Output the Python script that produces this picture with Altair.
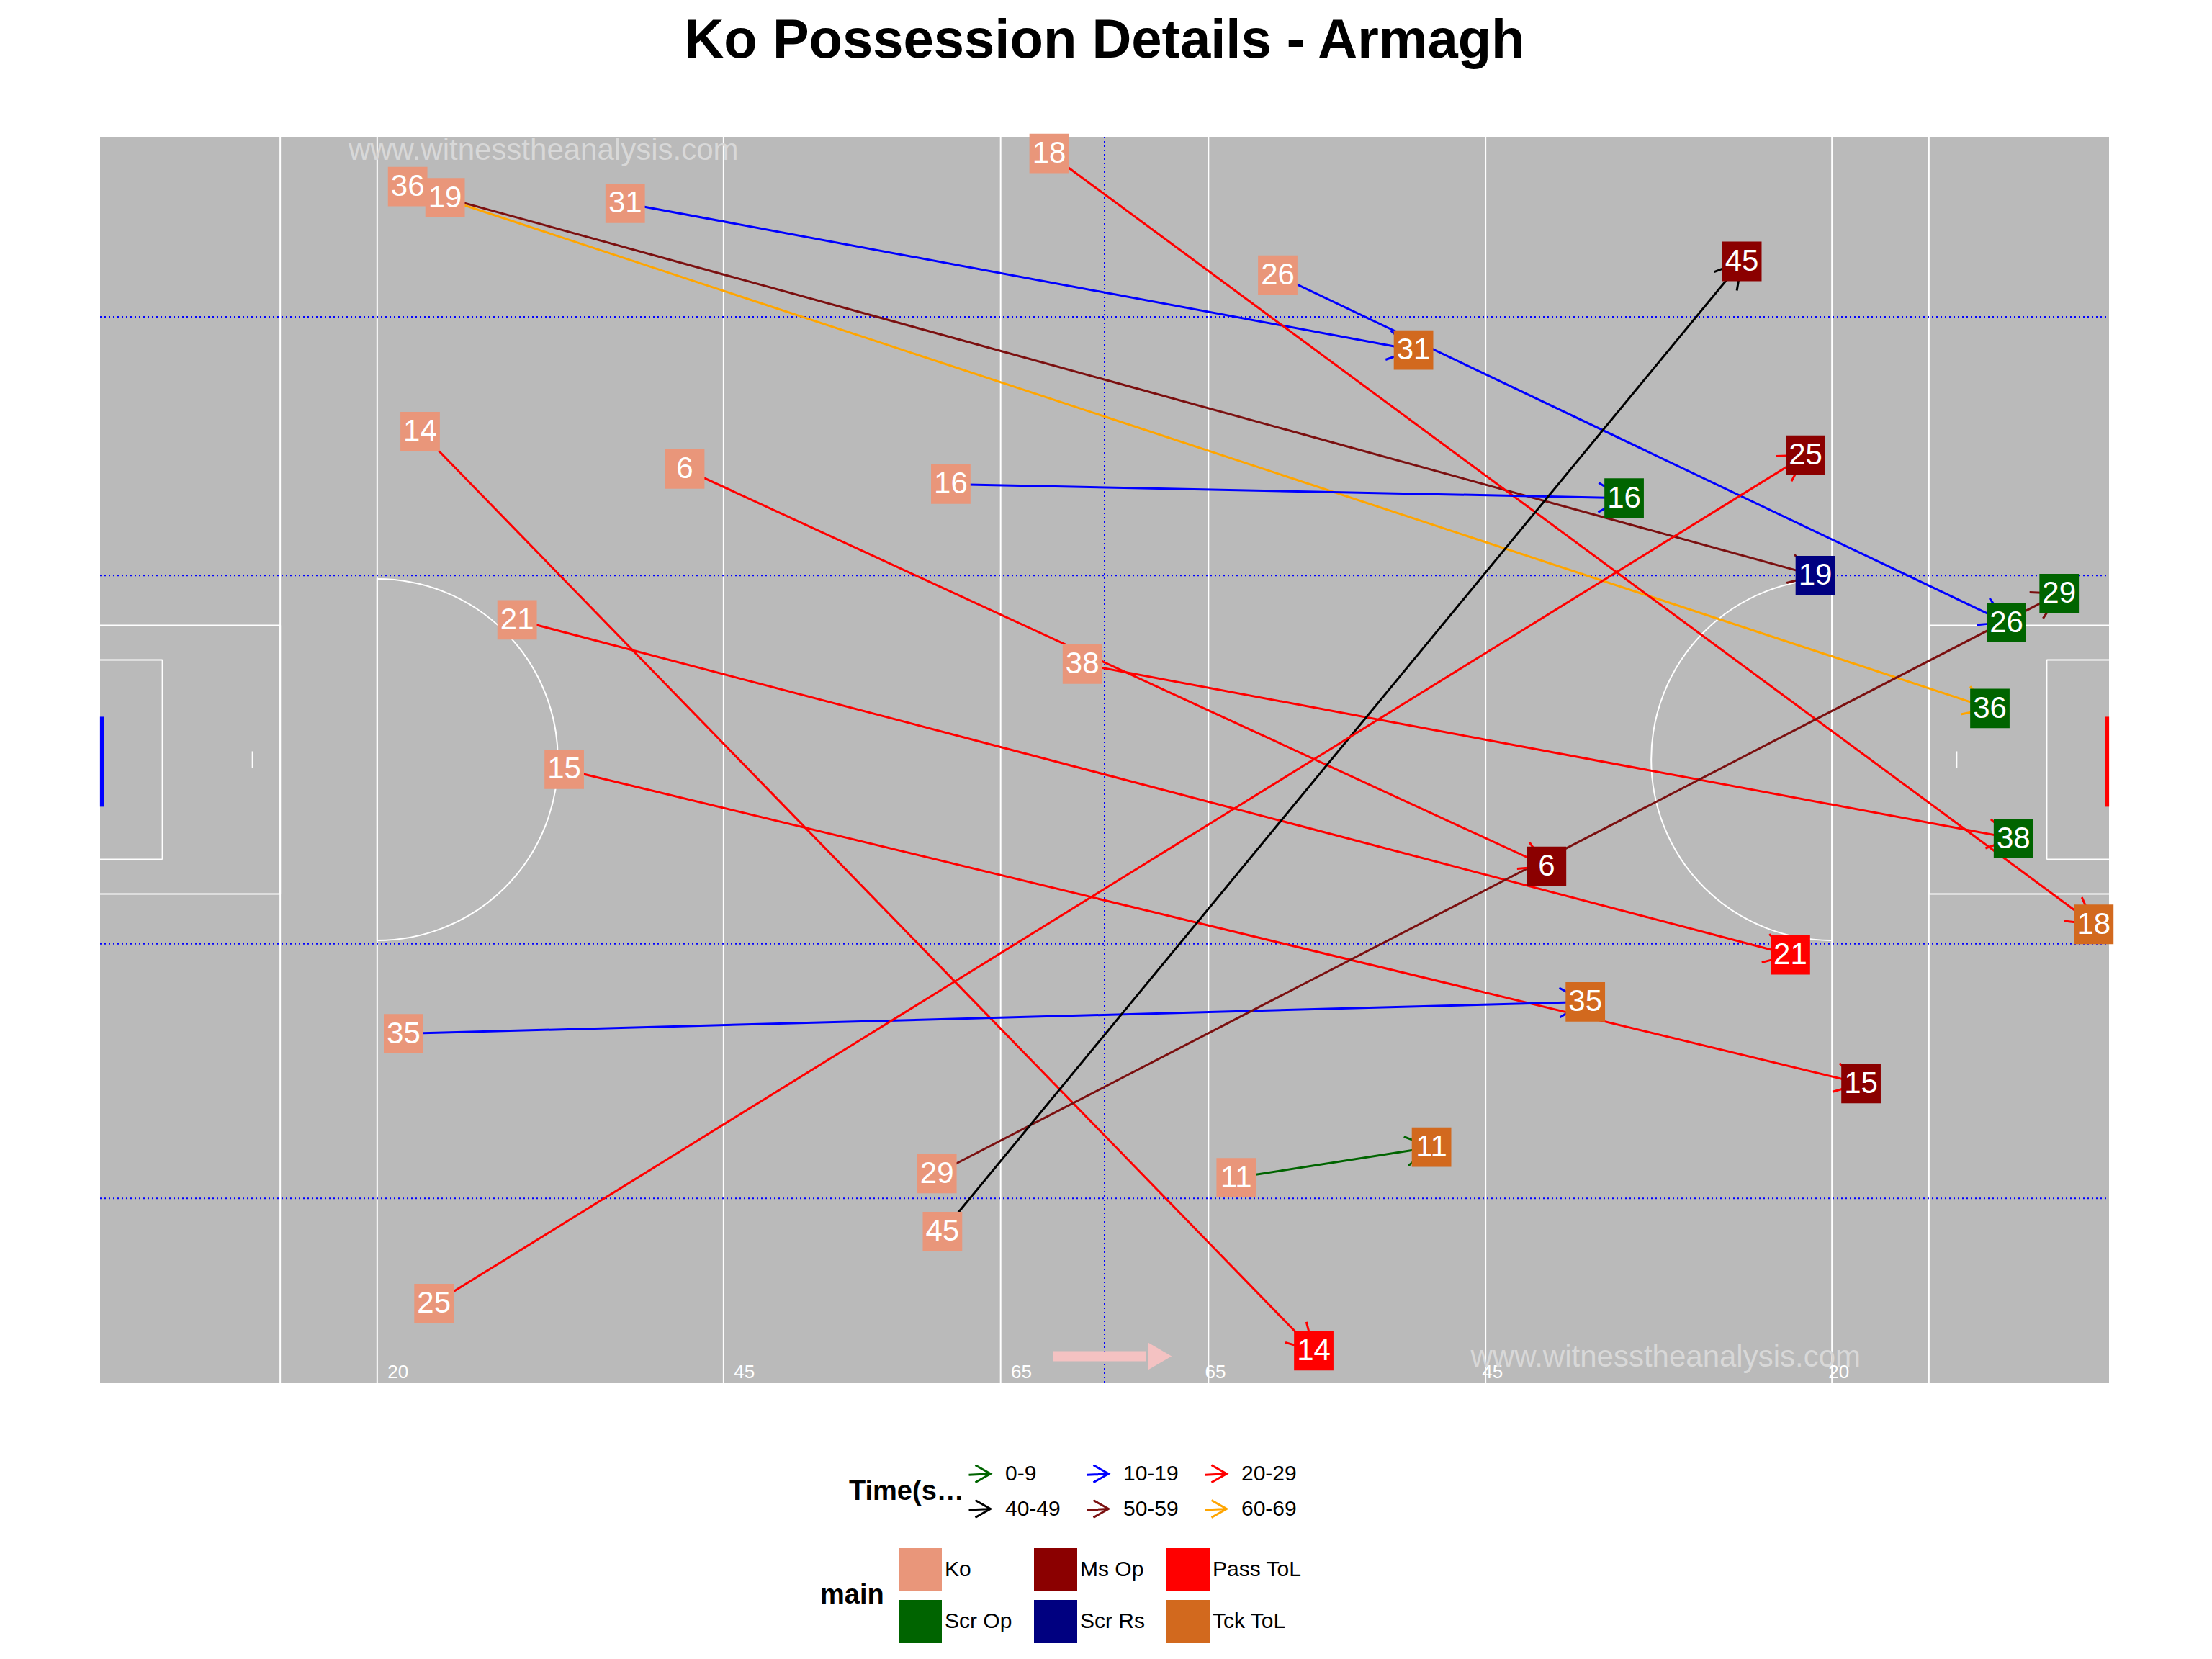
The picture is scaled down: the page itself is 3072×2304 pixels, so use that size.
import altair as alt
import pandas as pd

# kickouts: start (Ko) -> end point, in metres (x along 145m pitch, y up 90m)
ko_no = [36, 19, 31, 26, 18, 14, 6, 16, 21, 38, 15, 35, 29, 45, 25, 11]
x_start = [22.2, 24.9, 37.9, 85.0, 68.5, 23.1, 42.2, 61.4, 30.1, 70.9, 33.5, 21.9, 60.4, 60.8, 24.1, 82.0]
y_start = [86.4, 85.6, 85.2, 80.0, 88.8, 68.7, 66.0, 64.9, 55.1, 51.9, 44.3, 25.2, 15.1, 10.9, 5.7, 14.8]
x_end = [136.4, 123.8, 94.8, 137.6, 143.9, 87.6, 104.4, 110.0, 122.0, 138.1, 127.1, 107.2, 141.4, 118.5, 123.1, 96.1]
y_end = [48.7, 58.3, 74.6, 54.9, 33.1, 2.3, 37.3, 63.9, 30.9, 39.3, 21.6, 27.5, 57.0, 81.0, 67.0, 17.0]
time_band = ['60-69', '50-59', '10-19', '10-19', '20-29', '20-29', '20-29', '10-19',
             '20-29', '20-29', '20-29', '10-19', '50-59', '40-49', '20-29', '0-9']
outcome = ['Scr Op', 'Scr Rs', 'Tck ToL', 'Scr Op', 'Tck ToL', 'Pass ToL', 'Ms Op', 'Scr Op',
           'Pass ToL', 'Scr Op', 'Ms Op', 'Tck ToL', 'Scr Op', 'Ms Op', 'Ms Op', 'Tck ToL']

time_dom = ['0-9', '10-19', '20-29', '40-49', '50-59', '60-69']
time_col = ['#006400', '#0000FF', '#FF0000', '#000000', '#7B1010', '#FFA500']
main_dom = ['Ko', 'Ms Op', 'Pass ToL', 'Scr Op', 'Scr Rs', 'Tck ToL']
main_col = ['#E9967A', '#8B0000', '#FF0000', '#006400', '#000080', '#D2691E']

df = pd.DataFrame(dict(n=ko_no, x=x_start, y=y_start, x2=x_end, y2=y_end, t=time_band, m=outcome))
pts = pd.concat([
    pd.DataFrame(dict(n=ko_no, x=x_start, y=y_start, m='Ko')),
    pd.DataFrame(dict(n=ko_no, x=x_end, y=y_end, m=outcome)),
])

W, H = 2790, 1730
xs = alt.Scale(domain=[0, 145], nice=False, zero=False)
ys = alt.Scale(domain=[0, 90], nice=False, zero=False)
X = lambda f: alt.X(f, type='quantitative', scale=xs, axis=None)
Y = lambda f: alt.Y(f, type='quantitative', scale=ys, axis=None)

# pitch markings
pitch = pd.DataFrame(dict(
    x=[13, 20, 45, 65, 80, 100, 125, 132, 0, 13, 0, 0, 4.5, 0, 145, 132, 132, 145, 140.5, 140.5],
    x2=[13, 20, 45, 65, 80, 100, 125, 132, 13, 13, 13, 4.5, 4.5, 4.5, 132, 132, 145, 140.5, 140.5, 145],
    y=[0, 0, 0, 0, 0, 0, 0, 0, 54.7, 54.7, 35.3, 52.2, 52.2, 37.8, 54.7, 54.7, 35.3, 52.2, 52.2, 37.8],
    y2=[90, 90, 90, 90, 90, 90, 90, 90, 54.7, 35.3, 35.3, 52.2, 37.8, 37.8, 54.7, 35.3, 35.3, 52.2, 37.8, 37.8],
))
lines = alt.Chart(pitch).mark_rule(color='white', strokeWidth=2).encode(
    x=X('x'), x2='x2', y=Y('y'), y2='y2')

arcs = alt.Chart(pd.DataFrame(dict(x=[20, 125], y=[45, 45], a=[0, 3.14159], b=[3.14159, 6.28318]))).mark_arc(
    radius=251, stroke='white', strokeWidth=2, fill=None, filled=False).encode(
    x=X('x'), y=Y('y'), theta=alt.Theta('a:Q', scale=None), theta2='b')

dots = pd.DataFrame(dict(x=[0, 0, 0, 0, 72.5], x2=[145, 145, 145, 145, 72.5],
                         y=[77.0, 58.3, 31.7, 13.3, 0], y2=[77.0, 58.3, 31.7, 13.3, 90]))
dotted = alt.Chart(dots).mark_rule(color='#0000FF', strokeWidth=2, strokeDash=[2, 4]).encode(
    x=X('x'), x2='x2', y=Y('y'), y2='y2')

goals = alt.Chart(pd.DataFrame(dict(x=[0.15, 144.85], y=[41.6, 41.6], y2=[48.1, 48.1], c=['#0000FF', '#FF0000']))).mark_rule(
    strokeWidth=6).encode(x=X('x'), y=Y('y'), y2='y2', color=alt.Color('c:N', scale=None))

spots = alt.Chart(pd.DataFrame(dict(x=[11, 134], y=[44.4, 44.4], y2=[45.6, 45.6]))).mark_rule(
    color='white', strokeWidth=2).encode(x=X('x'), y=Y('y'), y2='y2')

marks = alt.Chart(pd.DataFrame(dict(x=[21.5, 46.5, 66.5, 80.5, 100.5, 125.5], l=['20', '45', '65', '65', '45', '20']))).mark_text(
    color='white', fontSize=26, align='center', font='Arial', dy=-14).encode(x=X('x'), y=alt.Y(datum=0, scale=ys, axis=None), text='l:N')

wm = alt.Chart(pd.DataFrame(dict(x=[32, 113], y=[89, 1.8]))).mark_text(
    text='www.witnesstheanalysis.com', color='#D8D8D8', fontSize=42, font='Arial').encode(x=X('x'), y=Y('y'))

dirline = alt.Chart(pd.DataFrame(dict(x=[68.8], x2=[75.5], y=[1.9]))).mark_rule(
    color='#F4C2C2', strokeWidth=14).encode(x=X('x'), x2='x2', y=Y('y'))
dirhead = alt.Chart(pd.DataFrame(dict(x=[76.5], y=[1.9]))).mark_point(
    shape='triangle-right', size=1400, filled=True, color='#F4C2C2', opacity=1).encode(x=X('x'), y=Y('y'))

legend_common = dict(orient='none', direction='horizontal', columns=3, labelFontSize=30, labelFont='Arial',
                     titleFontSize=38, titleFont='Arial', titleOrient='left', titleBaseline='middle',
                     titlePadding=20, columnPadding=30, rowPadding=12)

segs = alt.Chart(df).mark_rule(strokeWidth=3).encode(
    x=X('x'), x2='x2', y=Y('y'), y2='y2',
    color=alt.Color('t:N', scale=alt.Scale(domain=time_dom, range=time_col),
                    legend=alt.Legend(title='Time(secs)', symbolType='M -1.4 -0.8 L 0 0 L -1.4 0.8 M -2 0.1 L 0 0',
                                      symbolSize=900, symbolStrokeWidth=3, symbolFillColor='transparent',
                                      legendX=1040, legendY=1840, **legend_common)))

heads = alt.Chart(df).transform_calculate(
    ang='(atan2(-(datum.y2 - datum.y), datum.x2 - datum.x) * 180 / PI + 360) % 360'
).mark_point(shape='M -1.4 -0.8 L 0 0 L -1.4 0.8', size=2600, strokeWidth=3, filled=False, opacity=1).encode(
    x=X('x2'), y=Y('y2'), angle=alt.Angle('ang:Q', scale=None),
    color=alt.Color('t:N', scale=alt.Scale(domain=time_dom, range=time_col), legend=None))

boxes = alt.Chart(pts).mark_square(size=3000, opacity=1).encode(
    x=X('x'), y=Y('y'),
    fill=alt.Fill('m:N', scale=alt.Scale(domain=main_dom, range=main_col),
                  legend=alt.Legend(title='main', symbolType='square', symbolStrokeWidth=0, symbolSize=3600,
                                    legendX=1000, legendY=1960, **legend_common)))

labels = alt.Chart(pts).mark_text(color='white', fontSize=42, font='Arial').encode(
    x=X('x'), y=Y('y'), text='n:N')

chart = alt.layer(lines, arcs, spots, dotted, goals, marks, wm, dirline, dirhead, segs, heads, boxes, labels).properties(
    width=W, height=H,
    title=alt.Title('Ko Possession Details - Armagh', fontSize=76, font='Arial', fontWeight='bold', anchor='middle', offset=90)
).resolve_scale(color='independent').configure(
    padding={'left': 130, 'top': 10, 'right': 10, 'bottom': 5}
).configure_view(fill='#BABABA', stroke=None)

chart.save("out.html", embed_options={"renderer": "svg", "actions": False})
